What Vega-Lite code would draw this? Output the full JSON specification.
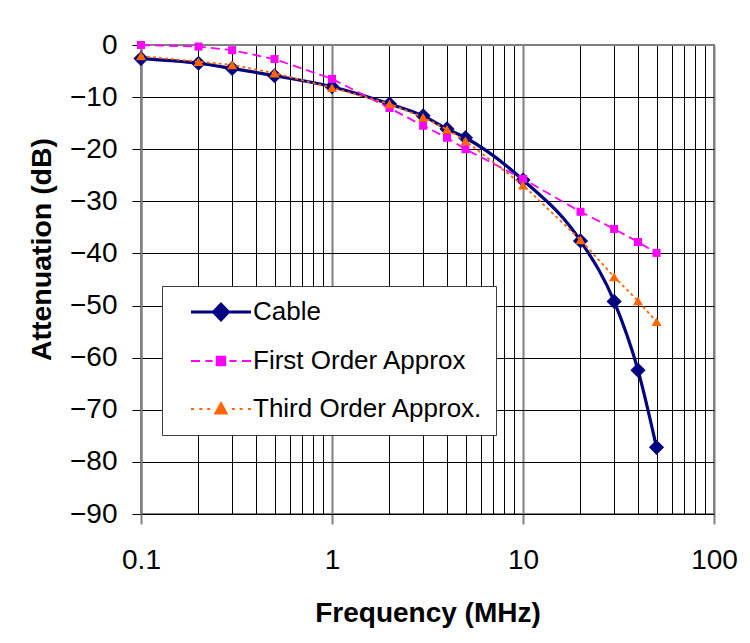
{
  "$schema": "https://vega.github.io/schema/vega-lite/v6.json",
  "width": 573,
  "height": 469,
  "autosize": {"type": "none"},
  "padding": {"left": 141, "top": 45, "right": 36, "bottom": 129},
  "background": "white",
  "config": {
    "font": "Liberation Sans",
    "view": {"stroke": "#808080", "strokeWidth": 2},
    "axis": {"labelColor": "black", "titleColor": "black", "labelFont": "Liberation Sans", "titleFont": "Liberation Sans"}
  },
  "data": {
    "values": [
      {"series": "Cable", "f": 0.1, "db": -2.6},
      {"series": "Cable", "f": 0.2, "db": -3.5},
      {"series": "Cable", "f": 0.3, "db": -4.5},
      {"series": "Cable", "f": 0.5, "db": -5.9},
      {"series": "Cable", "f": 1, "db": -8.0},
      {"series": "Cable", "f": 2, "db": -11.3},
      {"series": "Cable", "f": 3, "db": -13.6},
      {"series": "Cable", "f": 4, "db": -16.1},
      {"series": "Cable", "f": 5, "db": -17.8},
      {"series": "Cable", "f": 10, "db": -25.9},
      {"series": "Cable", "f": 20, "db": -37.6},
      {"series": "Cable", "f": 30, "db": -49.2},
      {"series": "Cable", "f": 40, "db": -62.4},
      {"series": "Cable", "f": 50, "db": -77.2},
      {"series": "First Order Approx", "f": 0.1, "db": 0},
      {"series": "First Order Approx", "f": 0.2, "db": -0.3},
      {"series": "First Order Approx", "f": 0.3, "db": -1.0},
      {"series": "First Order Approx", "f": 0.5, "db": -2.7},
      {"series": "First Order Approx", "f": 1, "db": -6.5},
      {"series": "First Order Approx", "f": 2, "db": -12.1},
      {"series": "First Order Approx", "f": 3, "db": -15.5},
      {"series": "First Order Approx", "f": 4, "db": -17.8},
      {"series": "First Order Approx", "f": 5, "db": -20.0},
      {"series": "First Order Approx", "f": 10, "db": -25.7},
      {"series": "First Order Approx", "f": 20, "db": -32.0},
      {"series": "First Order Approx", "f": 30, "db": -35.3},
      {"series": "First Order Approx", "f": 40, "db": -37.8},
      {"series": "First Order Approx", "f": 50, "db": -39.9},
      {"series": "Third Order Approx.", "f": 0.1, "db": -2.1},
      {"series": "Third Order Approx.", "f": 0.2, "db": -3.2},
      {"series": "Third Order Approx.", "f": 0.3, "db": -3.8},
      {"series": "Third Order Approx.", "f": 0.5, "db": -5.4},
      {"series": "Third Order Approx.", "f": 1, "db": -8.2},
      {"series": "Third Order Approx.", "f": 2, "db": -11.3},
      {"series": "Third Order Approx.", "f": 3, "db": -13.9},
      {"series": "Third Order Approx.", "f": 4, "db": -16.2},
      {"series": "Third Order Approx.", "f": 5, "db": -18.4},
      {"series": "Third Order Approx.", "f": 10, "db": -26.9},
      {"series": "Third Order Approx.", "f": 20, "db": -37.4},
      {"series": "Third Order Approx.", "f": 30, "db": -44.5},
      {"series": "Third Order Approx.", "f": 40, "db": -49.1},
      {"series": "Third Order Approx.", "f": 50, "db": -53.1}
    ]
  },
  "encoding": {
    "x": {
      "field": "f", "type": "quantitative",
      "scale": {"type": "log", "domain": [0.1, 100], "nice": false},
      "axis": {
        "values": [0.1,0.2,0.3,0.4,0.5,0.6,0.7,0.8,0.9,1,2,3,4,5,6,7,8,9,10,20,30,40,50,60,70,80,90,100],
        "labelExpr": "indexof([0.1,1,10,100], datum.value) >= 0 ? '' + datum.value : ''",
        "grid": true,
        "gridColor": {"condition": {"test": "indexof([0.1,1,10,100], datum.value) >= 0", "value": "#808080"}, "value": "#000000"},
        "gridWidth": {"condition": {"test": "indexof([0.1,1,10,100], datum.value) >= 0", "value": 2}, "value": 1},
        "tickSize": 10,
        "tickColor": "#808080",
        "tickWidth": 2,
        "tickOpacity": {"condition": {"test": "indexof([0.1,1,10,100], datum.value) >= 0", "value": 1}, "value": 0},
        "domainColor": "#000000",
        "domainWidth": 1,
        "labelFontSize": 28,
        "labelPadding": 22,
        "labelFlush": false,
        "labelOverlap": false,
        "title": "Frequency (MHz)",
        "titleFontSize": 28,
        "titleFontWeight": "bold",
        "titlePadding": 25
      }
    },
    "y": {
      "field": "db", "type": "quantitative",
      "scale": {"domain": [-90, 0], "nice": false, "zero": false},
      "axis": {
        "values": [-90,-80,-70,-60,-50,-40,-30,-20,-10,0],
        "grid": true,
        "gridColor": {"condition": {"test": "datum.value === 0", "value": "#808080"}, "value": "#000000"},
        "gridWidth": 1,
        "tickSize": 9,
        "tickColor": "#000000",
        "domainColor": "#808080",
        "domainWidth": 2,
        "labelFontSize": 28,
        "labelPadding": 15,
        "labelFlush": false,
        "labelOverlap": false,
        "title": "Attenuation (dB)",
        "titleFontSize": 28.5,
        "titleFontWeight": "bold",
        "titlePadding": 13,
        "titleY": 204
      }
    },
    "color": {
      "field": "series", "type": "nominal",
      "scale": {"domain": ["Cable", "First Order Approx", "Third Order Approx."], "range": ["#000080", "#FF00FF", "#FF6600"]},
      "legend": {
        "orient": "none",
        "legendX": 21,
        "legendY": 241,
        "title": null,
        "fillColor": "white",
        "strokeColor": "#404040",
        "padding": 13,
        "labelFontSize": 26,
        "labelFont": "Liberation Sans",
        "labelColor": "black",
        "labelLimit": 400,
        "rowPadding": 22,
        "symbolSize": 144,
        "symbolStrokeWidth": 2,
        "symbolOffset": 33,
        "labelOffset": 19,
        "encode": {
          "symbols": {
            "update": {
              "shape": {"signal": "datum.value === 'Cable' ? 'M-5,0L5,0M0,-1.3L1.25,0L0,1.3L-1.25,0Z' : datum.value === 'First Order Approx' ? 'M-5,0L-3.5,0M-2.6,0L-1.4,0M1.4,0L2.6,0M3.5,0L5,0M-0.7,-0.7L0.7,-0.7L0.7,0.7L-0.7,0.7Z' : 'M-5,0L-4.5,0M-3.6,0L-3.1,0M-2.3,0L-1.8,0M1.8,0L2.3,0M3.1,0L3.6,0M4.5,0L5,0M0,-1L0.95,0.75L-0.95,0.75Z'"},
              "fill": {"signal": "datum.value === 'Cable' ? '#000080' : datum.value === 'First Order Approx' ? '#FF00FF' : '#FF6600'"},
              "stroke": {"signal": "datum.value === 'Cable' ? '#000080' : datum.value === 'First Order Approx' ? '#FF00FF' : '#FF6600'"},
              "strokeWidth": {"signal": "datum.value === 'Cable' ? 3 : 2"},
              "size": {"value": 144},
              "opacity": {"value": 1},
              "fillOpacity": {"value": 1},
              "strokeOpacity": {"value": 1},
              "strokeDash": {"value": []}
            }
          }
        }
      }
    }
  },
  "layer": [
    {
      "transform": [{"filter": "datum.series === 'Cable'"}],
      "mark": {"type": "line", "strokeWidth": 3.2, "interpolate": "monotone"}
    },
    {
      "transform": [{"filter": "datum.series === 'Cable'"}],
      "mark": {"type": "point", "shape": "diamond", "filled": true, "size": 230, "opacity": 1}
    },
    {
      "transform": [{"filter": "datum.series === 'First Order Approx'"}],
      "mark": {"type": "line", "strokeWidth": 1.8, "strokeDash": [9, 5]}
    },
    {
      "transform": [{"filter": "datum.series === 'First Order Approx'"}],
      "mark": {"type": "point", "shape": "square", "filled": true, "size": 64, "opacity": 1}
    },
    {
      "transform": [{"filter": "datum.series === 'Third Order Approx.'"}],
      "mark": {"type": "line", "strokeWidth": 1.8, "strokeDash": [3, 3]}
    },
    {
      "transform": [{"filter": "datum.series === 'Third Order Approx.'"}],
      "mark": {"type": "point", "shape": "triangle-up", "filled": true, "size": 100, "opacity": 1}
    }
  ]
}
